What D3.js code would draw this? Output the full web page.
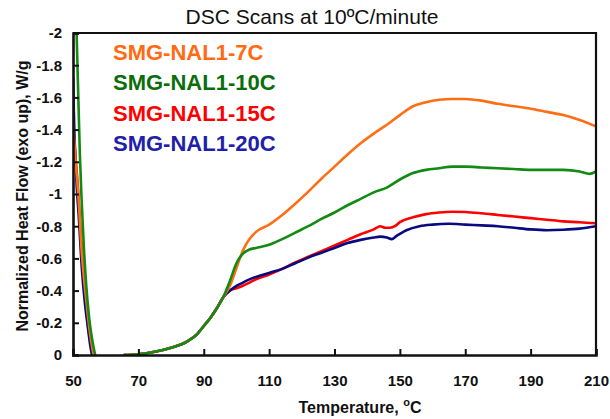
<!DOCTYPE html>
<html>
<head>
<meta charset="utf-8">
<script src="https://cdn.jsdelivr.net/npm/d3@7"></script>
<style>
  body { margin: 0; background: #fff; }
  svg { font-family: 'Liberation Sans', Arial, sans-serif; }
</style>
</head>
<body>
<div id="chart"></div>
<script>
// series data (temperature in C, heat flow in W/g); null = gap where the trace leaves the plot
const seriesNames = ['SMG-NAL1-7C', 'SMG-NAL1-10C', 'SMG-NAL1-15C', 'SMG-NAL1-20C']

const temps7C = [50, 50.8, 51.6, 52.7, 54, 55.3, 56.3, 60,
  65.5, 70, 75, 80, 85, 88, 90, 92, 94, 96, 98, 100, 102, 104, 106, 110, 114, 118, 122, 126, 130,
  134, 138, 142, 146, 150, 154, 158, 162, 166, 170, 175, 180, 185, 190, 195, 200, 205, 210]
const flow7C = [-1.45, -1.2, -1.0, -0.63, -0.35, -0.12, 0, null,
  0, -0.005, -0.02, -0.045, -0.085, -0.13, -0.18, -0.23, -0.29, -0.36, -0.43, -0.54, -0.65, -0.72, -0.765, -0.81, -0.87, -0.94, -1.015, -1.095, -1.17,
  -1.245, -1.315, -1.375, -1.43, -1.49, -1.545, -1.57, -1.585, -1.59, -1.59, -1.58, -1.56, -1.545, -1.53, -1.51, -1.49, -1.46, -1.42]

const temps10C = [51.1, 51.6, 52.1, 52.6, 53.3, 54.1, 55, 56, 56.8, 60,
  65.5, 70, 75, 80, 85, 88, 90, 92, 94, 96, 98, 100, 102, 104, 106, 110, 114, 118, 122, 126, 130,
  134, 138, 142, 146, 150, 154, 158, 162, 166, 170, 175, 180, 185, 190, 195, 200, 205, 208, 210]
const flow10C = [-2.0, -1.62, -1.25, -0.98, -0.68, -0.42, -0.22, -0.08, 0, null,
  0, -0.005, -0.02, -0.045, -0.085, -0.13, -0.18, -0.23, -0.29, -0.36, -0.46, -0.57, -0.63, -0.655, -0.665, -0.685, -0.72, -0.76, -0.8, -0.845, -0.885,
  -0.93, -0.97, -1.01, -1.04, -1.09, -1.13, -1.15, -1.16, -1.17, -1.17, -1.165, -1.16, -1.155, -1.15, -1.15, -1.15, -1.14, -1.125, -1.14]

const temps15C = [50, 50.7, 51.4, 52.5, 53.7, 54.8, 55.8, 56.5, 60,
  65.5, 70, 75, 80, 85, 88, 90, 92, 94, 96, 98, 100, 102, 104, 106, 110, 114, 118, 122, 126, 130,
  134, 138, 142, 144, 145.5, 147, 148.5, 150, 154, 158, 162, 166, 170, 175, 180, 185, 190, 195, 200, 205, 210]
const flow15C = [-1.45, -1.25, -1.07, -0.71, -0.36, -0.15, -0.04, 0, null,
  0, -0.005, -0.02, -0.045, -0.085, -0.13, -0.18, -0.23, -0.29, -0.36, -0.4, -0.415, -0.43, -0.45, -0.47, -0.5, -0.535, -0.575, -0.61, -0.645, -0.68,
  -0.715, -0.75, -0.78, -0.8, -0.79, -0.79, -0.8, -0.825, -0.855, -0.875, -0.885, -0.89, -0.888, -0.88, -0.87, -0.86, -0.85, -0.84, -0.83, -0.825, -0.818]

const temps20C = [50, 50.4, 51, 51.8, 52.7, 53.6, 54.5, 55.2, 55.8, 60,
  65.5, 70, 75, 80, 85, 88, 90, 92, 94, 96, 98, 100, 102, 104, 106, 110, 114, 118, 122, 126, 130,
  134, 138, 142, 144, 146, 147.5, 149, 152, 156, 160, 165, 170, 175, 180, 185, 190, 195, 200, 205, 210]
const flow20C = [-1.72, -1.4, -1.1, -0.85, -0.54, -0.33, -0.18, -0.07, 0, null,
  0, -0.005, -0.02, -0.045, -0.085, -0.13, -0.18, -0.23, -0.29, -0.36, -0.4, -0.43, -0.45, -0.47, -0.485, -0.51, -0.535, -0.57, -0.605, -0.635, -0.665,
  -0.695, -0.715, -0.73, -0.735, -0.73, -0.72, -0.74, -0.775, -0.8, -0.81, -0.815, -0.81, -0.805, -0.8, -0.79, -0.78, -0.775, -0.778, -0.785, -0.8]

const xTicks = [50, 70, 90, 110, 130, 150, 170, 190, 210]
const yTicks = [0, -0.2, -0.4, -0.6, -0.8, -1, -1.2, -1.4, -1.6, -1.8, -2]

const lineColors = ['#FF6E14', '#138A13', '#FF0000', '#0A0A80']
const legendColors = ['#FF6A13', '#0B6E0B', '#FF0000', '#2020A8']

const width = 610
const height = 419
const margins = { left: 73, right: 14, top: 33, bottom: 64 }
const plotWidth = width - margins.left - margins.right
const plotHeight = height - margins.top - margins.bottom

const svg = d3.select('#chart').append('svg')
  .attr('width', width)
  .attr('height', height)

const plot = svg.append('g')
  .attr('transform', `translate(${margins.left}, ${margins.top})`)

// scales
const x = d3.scaleLinear().domain([50, 210]).range([0, plotWidth])
const y = d3.scaleLinear().domain([0, -2]).range([plotHeight, 0])

plot.append('clipPath').attr('id', 'clip')
  .append('rect').attr('width', plotWidth).attr('height', plotHeight)

// lines, drawn in this order so orange sits on top of the steep drop
const series = [
  { temps: temps15C, flow: flow15C, color: lineColors[2] },
  { temps: temps20C, flow: flow20C, color: lineColors[3] },
  { temps: temps7C, flow: flow7C, color: lineColors[0] },
  { temps: temps10C, flow: flow10C, color: lineColors[1] },
]

const line = d3.line()
  .defined(d => d[1] !== null)
  .x(d => x(d[0]))
  .y(d => y(d[1]))
  .curve(d3.curveMonotoneX)

plot.append('g').attr('clip-path', 'url(#clip)')
  .selectAll('path')
  .data(series)
  .enter()
  .append('path')
  .attr('fill', 'none')
  .attr('stroke', d => d.color)
  .attr('stroke-width', 2.6)
  .attr('stroke-linejoin', 'round')
  .attr('d', d => line(d.temps.map((t, i) => [t, d.flow[i]])))

// frame top / right
plot.append('path')
  .attr('d', `M0,0H${plotWidth}V${plotHeight}`)
  .attr('fill', 'none')
  .attr('stroke', '#111')
  .attr('stroke-width', 2.2)

// axes
const fmt = d => (d === 0 ? '0' : String(+d.toFixed(1)))

const yAxis = plot.append('g')
  .call(d3.axisLeft(y).tickValues(yTicks).tickFormat(fmt).tickSize(-6).tickPadding(11))
const xAxis = plot.append('g')
  .attr('transform', `translate(0, ${plotHeight})`)
  .call(d3.axisBottom(x).tickValues(xTicks).tickFormat(d3.format('d')).tickSize(-6).tickPadding(20))

;[xAxis, yAxis].forEach(ax => {
  ax.select('.domain').attr('stroke', '#111').attr('stroke-width', 2.6)
  ax.selectAll('.tick line').attr('stroke', '#111').attr('stroke-width', 2)
  ax.selectAll('.tick text')
    .attr('fill', '#111')
    .attr('font-size', '15px')
    .attr('font-weight', 'bold')
    .attr('font-family', "'Liberation Sans', Arial, sans-serif")
})

// title
svg.append('text')
  .attr('x', 312)
  .attr('y', 24)
  .attr('text-anchor', 'middle')
  .attr('font-size', '21px')
  .attr('fill', '#111')
  .text('DSC Scans at 10ºC/minute')

// axis titles
const xTitle = svg.append('text')
  .attr('x', 360)
  .attr('y', 413)
  .attr('text-anchor', 'middle')
  .attr('font-size', '16px')
  .attr('font-weight', 'bold')
  .attr('fill', '#111')
xTitle.append('tspan').text('Temperature, ')
xTitle.append('tspan').attr('font-size', '11px').attr('dy', -7).text('o')
xTitle.append('tspan').attr('dy', 7).text('C')

svg.append('text')
  .attr('transform', 'translate(28, 196) rotate(-90)')
  .attr('text-anchor', 'middle')
  .attr('font-size', '16px')
  .attr('font-weight', 'bold')
  .attr('fill', '#111')
  .text('Normalized Heat Flow (exo up), W/g')

// legend
const legendBaselines = [60, 90, 121, 151]
svg.append('g')
  .selectAll('text')
  .data(seriesNames)
  .enter()
  .append('text')
  .attr('x', 113)
  .attr('y', (d, i) => legendBaselines[i])
  .attr('font-size', '22px')
  .attr('font-weight', 'bold')
  .attr('fill', (d, i) => legendColors[i])
  .text(d => d)
</script>
</body>
</html>
